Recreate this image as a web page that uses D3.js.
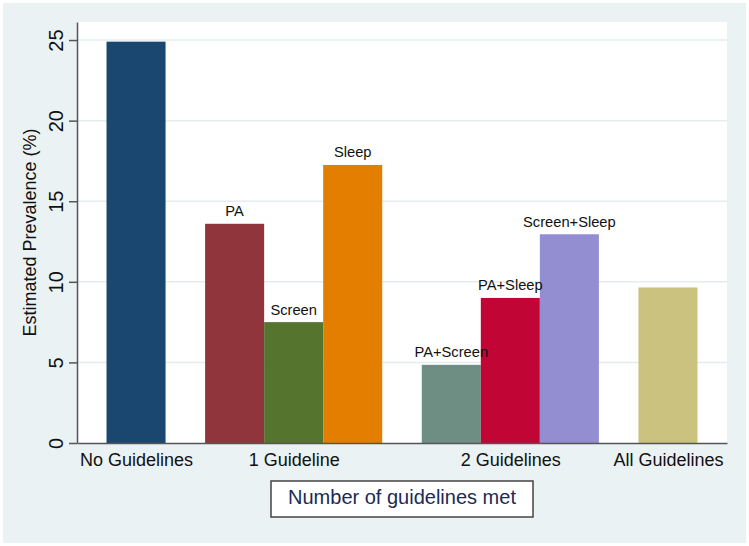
<!DOCTYPE html>
<html>
<head>
<meta charset="utf-8">
<script src="https://cdn.jsdelivr.net/npm/d3@7"></script>
<style>
  body { margin: 0; background: #ffffff; }
  text { font-family: "Liberation Sans", Arial, Helvetica, sans-serif; }
</style>
</head>
<body>
<div id="chart"></div>
<script>
// Data
var groupLabels = ["No Guidelines", "1 Guideline", "2 Guidelines", "All Guidelines"];
var barLabels = ["", "PA", "Screen", "Sleep", "PA+Screen", "PA+Sleep", "Screen+Sleep", ""];
var barGroups = [0, 1, 1, 1, 2, 2, 2, 3];
var prevalence = [24.9, 13.6, 7.5, 17.25, 4.85, 9.0, 12.95, 9.65];
var barColors = ["#1a476f", "#90353b", "#55752f", "#e37e00", "#6e8e84", "#c10534", "#938dd2", "#cac27e"];
var yTicks = [0, 5, 10, 15, 20, 25];

var svgWidth = 749;
var svgHeight = 546;

var plot = { left: 77, right: 727, top: 22, bottom: 443 };

var svg = d3.select("#chart")
  .append("svg")
  .attr("width", svgWidth)
  .attr("height", svgHeight);

// outer background
svg.append("rect")
  .attr("x", 3).attr("y", 3)
  .attr("width", 743).attr("height", 540)
  .attr("fill", "#eaf2f3");

// plot region
svg.append("rect")
  .attr("x", plot.left).attr("y", plot.top)
  .attr("width", plot.right - plot.left)
  .attr("height", plot.bottom - plot.top)
  .attr("fill", "#ffffff");

// slot positions in bar-width units: outer pad, group gaps
var outerPad = 0.5, groupGap = 0.67;
var slotStart = [];
barGroups.forEach(function(g, i) {
  slotStart.push(outerPad + g * groupGap + i);
});
var totalUnits = outerPad * 2 + groupGap * (groupLabels.length - 1) + barGroups.length;

var x = d3.scaleLinear()
  .domain([0, totalUnits])
  .range([plot.left, plot.right]);

var y = d3.scaleLinear()
  .domain([0, 26.12])
  .range([plot.bottom, plot.top]);

// gridlines
svg.append("g")
  .selectAll("line")
  .data(yTicks.filter(d => d > 0))
  .enter()
  .append("line")
  .attr("x1", plot.left)
  .attr("x2", plot.right)
  .attr("y1", d => y(d))
  .attr("y2", d => y(d))
  .attr("stroke", "#e3ecee")
  .attr("stroke-width", 1.5);

// bars
svg.append("g")
  .selectAll("rect")
  .data(prevalence)
  .enter()
  .append("rect")
  .attr("x", (d, i) => x(slotStart[i]))
  .attr("width", (d, i) => x(slotStart[i] + 1) - x(slotStart[i]))
  .attr("y", d => y(d))
  .attr("height", d => y(0) - y(d))
  .attr("fill", (d, i) => barColors[i]);

// bar labels
svg.append("g")
  .selectAll("text")
  .data(prevalence)
  .enter()
  .append("text")
  .attr("x", (d, i) => x(slotStart[i] + 0.5))
  .attr("y", d => y(d) - 7.5)
  .attr("text-anchor", "middle")
  .attr("font-size", "14.7px")
  .attr("fill", "#111")
  .text((d, i) => barLabels[i]);

// y axis
var leftAxis = d3.axisLeft(y)
  .tickValues(yTicks)
  .tickSizeInner(8)
  .tickSizeOuter(0);

var yAxisG = svg.append("g")
  .attr("transform", `translate(${plot.left}, 0)`)
  .call(leftAxis);

yAxisG.select(".domain").attr("stroke", "#555").attr("stroke-width", 1.5);
yAxisG.selectAll(".tick line").attr("stroke", "#555").attr("stroke-width", 1.5);
yAxisG.selectAll(".tick text")
  .attr("transform", "rotate(-90)")
  .attr("x", 0)
  .attr("y", -14)
  .attr("dy", 0)
  .attr("text-anchor", "middle")
  .attr("font-size", "20px")
  .attr("font-family", "Liberation Sans, Arial, sans-serif")
  .attr("fill", "#111");

// x axis with group labels
var groupCenters = groupLabels.map(function(g, gi) {
  var idx = barGroups.map((b, i) => b === gi ? i : -1).filter(i => i >= 0);
  return (slotStart[idx[0]] + slotStart[idx[idx.length - 1]] + 1) / 2;
});

var bottomAxis = d3.axisBottom(x)
  .tickValues(groupCenters)
  .tickFormat((d, i) => groupLabels[i])
  .tickSize(0);

var xAxisG = svg.append("g")
  .attr("transform", `translate(0, ${plot.bottom})`)
  .call(bottomAxis);

xAxisG.select(".domain").attr("stroke", "#555").attr("stroke-width", 1.5);
xAxisG.selectAll(".tick text")
  .attr("y", 23)
  .attr("dy", 0)
  .attr("font-size", "18px")
  .attr("font-family", "Liberation Sans, Arial, sans-serif")
  .attr("fill", "#111");

// y axis title
svg.append("text")
  .attr("transform", `translate(36, ${(plot.top + plot.bottom) / 2}) rotate(-90)`)
  .attr("text-anchor", "middle")
  .attr("font-size", "18px")
  .attr("fill", "#111")
  .text("Estimated Prevalence (%)");

// x axis title in a box
var boxCx = (plot.left + plot.right) / 2;
svg.append("rect")
  .attr("x", 271).attr("y", 481)
  .attr("width", 262).attr("height", 36)
  .attr("fill", "#ffffff")
  .attr("stroke", "#444")
  .attr("stroke-width", 1.5);

svg.append("text")
  .attr("x", boxCx)
  .attr("y", 504)
  .attr("text-anchor", "middle")
  .attr("font-size", "20px")
  .attr("fill", "#1c2a55")
  .text("Number of guidelines met");
</script>
</body>
</html>
